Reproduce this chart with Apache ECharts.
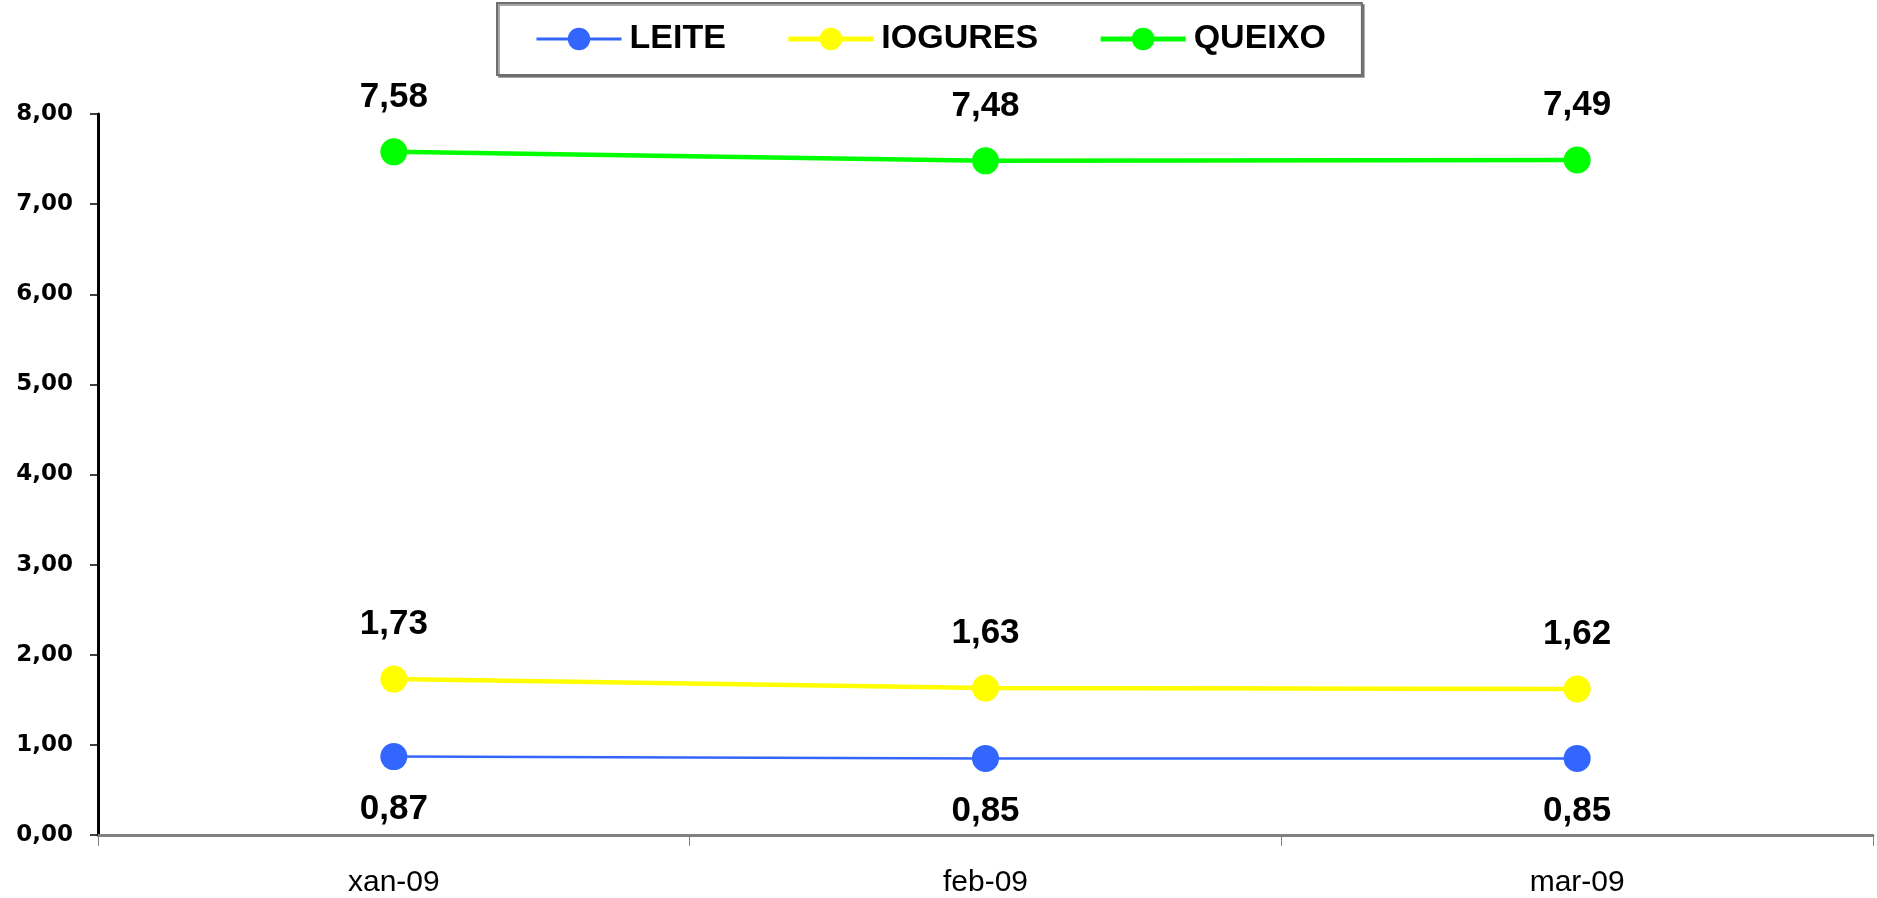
<!DOCTYPE html>
<html>
<head>
<meta charset="utf-8">
<script src="https://cdn.jsdelivr.net/npm/echarts@6/dist/echarts.min.js"></script>
<style>
html,body{margin:0;padding:0;background:#fff;}
#chart{width:1877px;height:898px;}
</style>
</head>
<body>
<div id="chart"></div>
<script>
const categories = ['xan-09', 'feb-09', 'mar-09'];
const leite = [0.87, 0.85, 0.85];
const iogures = [1.73, 1.63, 1.62];
const queixo = [7.58, 7.48, 7.49];
const yTicks = {min: 0, max: 8, interval: 1};

const fmt = v => v.toFixed(2).replace('.', ',');
const labelFont = {fontFamily: 'Liberation Sans, Arial, sans-serif', fontWeight: 'bold', fontSize: 35, color: '#000'};

const chart = echarts.init(document.getElementById('chart'), null, {renderer: 'canvas'});
chart.setOption({
  animation: false,
  backgroundColor: '#fff',
  grid: {left: 98, right: 4, top: 114, bottom: 63, containLabel: false},
  legend: {
    left: 497, top: 3,
    padding: [19, 36, 19, 38],
    backgroundColor: '#fff',
    borderColor: '#6e6e6e', borderWidth: 2,
    shadowColor: 'rgba(0,0,0,0.35)', shadowOffsetX: 2, shadowOffsetY: 2, shadowBlur: 0,
    itemWidth: 85, itemHeight: 28, itemGap: 60,
    textStyle: {fontFamily: 'Liberation Sans, Arial, sans-serif', fontWeight: 'bold', fontSize: 34, color: '#000', padding: [0, 0, 0, 3]},
    data: [
      {name: 'LEITE', lineStyle: {width: 3}},
      {name: 'IOGURES', lineStyle: {width: 5}},
      {name: 'QUEIXO', lineStyle: {width: 5}}
    ]
  },
  xAxis: {
    type: 'category', data: categories, boundaryGap: true,
    axisLine: {lineStyle: {color: '#808080', width: 3}},
    axisTick: {show: true, length: 11, lineStyle: {color: '#808080', width: 1}},
    axisLabel: {margin: 33, fontFamily: 'Liberation Sans, Arial, sans-serif', fontSize: 30, color: '#000'},
    splitLine: {show: false}
  },
  yAxis: {
    type: 'value', min: yTicks.min, max: yTicks.max, interval: yTicks.interval,
    axisLine: {show: true, lineStyle: {color: '#000', width: 3}},
    axisTick: {show: true, length: 8, lineStyle: {color: '#000', width: 1.5}},
    axisLabel: {margin: 25, formatter: v => fmt(v), fontFamily: 'DejaVu Sans, sans-serif', fontWeight: 'bold', fontSize: 23, color: '#000'},
    splitLine: {show: false}
  },
  series: [
    {
      name: 'LEITE', type: 'line', data: leite,
      symbol: 'circle', symbolSize: 27,
      itemStyle: {color: '#3366FF'},
      lineStyle: {color: '#3366FF', width: 2.5},
      label: Object.assign({show: true, position: 'bottom', distance: 22, formatter: p => fmt(p.value)}, labelFont),
      z: 3
    },
    {
      name: 'IOGURES', type: 'line', data: iogures,
      symbol: 'circle', symbolSize: 27,
      itemStyle: {color: '#FFFF00'},
      lineStyle: {color: '#FFFF00', width: 4.5},
      label: Object.assign({show: true, position: 'top', distance: 24, formatter: p => fmt(p.value)}, labelFont),
      z: 3
    },
    {
      name: 'QUEIXO', type: 'line', data: queixo,
      symbol: 'circle', symbolSize: 27,
      itemStyle: {color: '#00FF00'},
      lineStyle: {color: '#00FF00', width: 4.5},
      label: Object.assign({show: true, position: 'top', distance: 24, formatter: p => fmt(p.value)}, labelFont),
      z: 3
    }
  ]
});
</script>
</body>
</html>
